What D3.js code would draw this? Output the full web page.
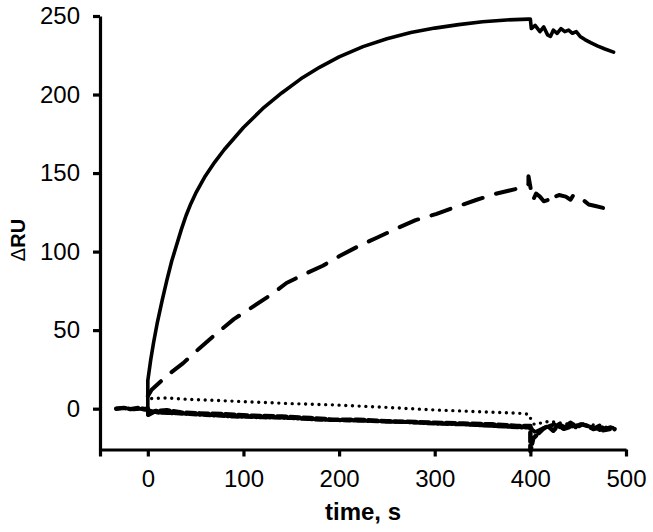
<!DOCTYPE html>
<html>
<head>
<meta charset="utf-8">
<script src="https://cdn.jsdelivr.net/npm/d3@7"></script>
<style>
  body { margin: 0; background: #fff; }
  svg { display: block; }
</style>
</head>
<body>
<script>
// Sensorgram traces (time in s, response in RU)
const solidT = [-33,-25,-15,-5,0,0,0,3,6,10,15,20,25,30,35,40,45,50,60,70,80,90,100,120,140,160,180,200,225,250,275,300,325,350,375,398,400,401,405,410,414,418,421,424,428,432,436,440,444,448,452,457,463,470,478,487];
const solidV = [0,0.5,-0.5,0,0,-4,18,31,42,55,69,82,94,104,114,123,130.5,137,148,157,165,172,179,191,201,210,217.5,224,230.5,235.5,239.5,242.3,244.5,246.3,247.5,248,248,242,244,240,243,238,237,241,239,242,240,241,239,240,237,235,233,231,229,227];

const dashT = [0,4,20,37,55,72,90,110,130,145,165,183,200,222,240,261,280,302,320,344,365,386,396,398,398,401,403,406,410,414,419,422,426,430,437,442,445,450,455,461,468,475,481,487];
const dashV = [8,12,21,29,39,48,57,65,73,80,86,91,97,104,109,115,120,124,128,133,137,140,142,143,148,138,133,137,135,132,133,137,135,136,135,133,136,135,133,130,129,128,127,126];

const dotT = [4,20,40,61,100,150,194,250,299,350,390,398,400,404,412,420,430,440,450,460,470,480,488];
const dotV = [6.5,6.8,6,5.5,4.5,3.2,2.4,0.8,-0.8,-2,-3,-3.5,-6,-10,-9,-8,-9,-10,-9.5,-11,-10,-12,-12];

const shortT = [-33,-25,-18,-10,-3,0,0,8,20,35,54,80,110,140,170,194,220,250,280,300,330,360,386,398,400,400,403,408,413,418,424,430,436,442,448,454,460,466,472,478,484,488];
const shortV = [0,0.5,-0.3,0.4,-0.5,0,-4,-1.5,-1,-2.5,-3,-3.5,-4.5,-5,-6,-7,-7,-8,-8.5,-9,-9.5,-10,-11,-11,-11,-27,-19,-16,-13,-11,-14,-10,-12,-9,-12,-10,-11,-13,-11,-13,-12,-13];

const dashDotT = [0,10,30,60,90,120,150,180,210,240,270,300,330,360,390,400,405,415,425,435,445,455,465,475,485];
const dashDotV = [-1,-2.5,-3,-4,-5,-5.5,-6,-7,-7.5,-8,-8.5,-9.5,-10,-11,-12,-12,-15,-12,-10,-13,-11,-10,-12,-14,-13];

const xTicks = [-50,0,100,200,300,400,500];
const yTicks = [0,50,100,150,200,250];

const series = [
    { t: solidT, v: solidV, width: 3.6, dash: null },
    { t: dashT, v: dashV, width: 4, dash: "20,14" },
    { t: dotT, v: dotV, width: 3.4, dash: "0,6.7" },
    { t: shortT, v: shortV, width: 4.5, dash: "9,4" },
    { t: dashDotT, v: dashDotV, width: 4, dash: "7,3,1,3" }
];

const W = 653, H = 532;

const svg = d3.select("body")
    .append("svg")
    .attr("width", W)
    .attr("height", H);

const x = d3.scaleLinear().domain([-50, 500]).range([100, 626]);
const y = d3.scaleLinear().domain([-26, 250]).range([449.5, 16]);

const line = d3.line()
    .x(d => x(d[0]))
    .y(d => y(d[1]));

// Traces
series.forEach(s => {
    const pts = s.t.map((t, i) => [t, s.v[i]]);
    svg.append("path")
        .datum(pts)
        .attr("fill", "none")
        .attr("stroke", "#000")
        .attr("stroke-width", s.width)
        .attr("stroke-linecap", "round")
        .attr("stroke-linejoin", "round")
        .attr("stroke-dasharray", s.dash)
        .attr("d", line);
});

// X axis
const xAxis = svg.append("g")
    .attr("transform", `translate(0,${y(-26)})`)
    .call(d3.axisBottom(x)
        .tickValues(xTicks)
        .tickSize(7)
        .tickSizeOuter(0)
        .tickPadding(13)
        .tickFormat(d => d < 0 ? "" : d));

// Y axis
const yAxis = svg.append("g")
    .attr("transform", `translate(${x(-50)},0)`)
    .call(d3.axisLeft(y)
        .tickValues(yTicks)
        .tickSize(7)
        .tickSizeOuter(0)
        .tickPadding(13));

[xAxis, yAxis].forEach(g => {
    g.select(".domain").attr("stroke", "#000").attr("stroke-width", 3.2);
    g.selectAll(".tick line").attr("stroke", "#000").attr("stroke-width", 3.2);
    g.selectAll(".tick text")
        .attr("fill", "#000")
        .style("font-family", "'Liberation Sans', Arial, sans-serif")
        .style("font-size", "24px");
});

// Axis titles
svg.append("text")
    .attr("x", 363)
    .attr("y", 520)
    .attr("text-anchor", "middle")
    .style("font-family", "'Liberation Sans', Arial, sans-serif")
    .style("font-size", "24px")
    .style("font-weight", "bold")
    .text("time, s");

const yTitle = svg.append("text")
    .attr("transform", "translate(25,240) rotate(-90)")
    .attr("text-anchor", "middle")
    .style("font-family", "'Liberation Sans', Arial, sans-serif")
    .style("font-size", "20px")
    .style("font-weight", "bold");
yTitle.append("tspan").style("font-weight", "normal").text("Δ");
yTitle.append("tspan").text("RU");
</script>
</body>
</html>
